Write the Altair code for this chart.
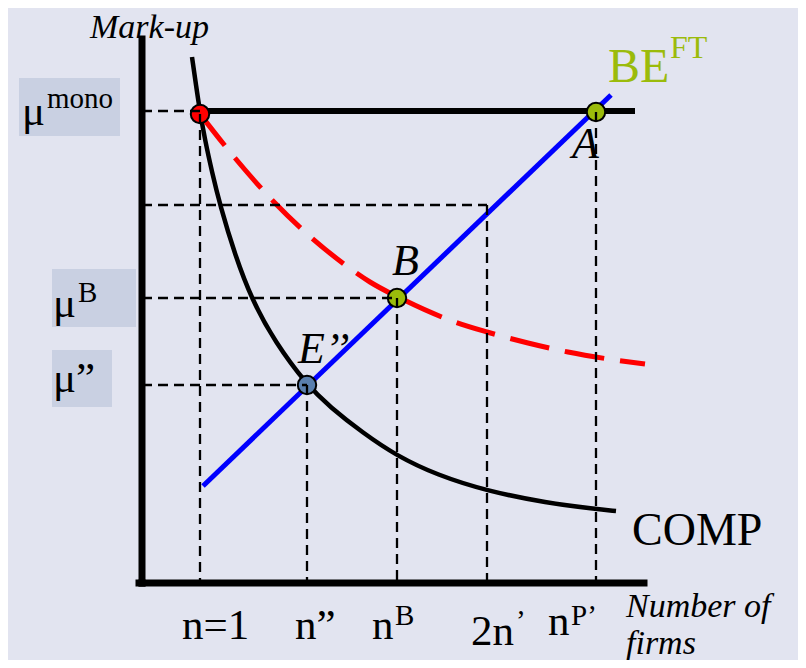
import altair as alt
import pandas as pd

# Schematic frame: x = number of firms (arbitrary units), y = mark-up (arbitrary units)
X_DOMAIN = [-134, 656]
Y_DOMAIN = [-80, 572]

# Curves
comp_x = [50, 54, 58, 63, 70, 78, 93, 110, 133, 165, 188, 221, 255, 295, 345, 405, 453, 474]
comp_y = [523, 495, 468, 440, 408, 375, 325, 280, 238, 195, 173, 147, 124, 105, 89, 77, 71, 69]

red_x = [58, 93, 133, 163, 198, 228, 258, 313, 345, 386, 426, 463, 503]
red_y = [466, 422, 377, 348, 319, 298, 282, 258, 248, 237, 228, 221.5, 216]

mono_x = [58, 493]
mono_y = [469, 469]

be_x = [61, 469]
be_y = [94, 485]

# Axes
axis_x = [0, 0, -3]
axis_y = [541, -3, -3]
axis_x2 = [0, 0, 502]
axis_y2 = [-3, -3, -3]

# Points
pt_x = [58, 454, 255, 165]
pt_y = [466, 468, 282, 195]
pt_color = ["#FF0000", "#9BBB0B", "#9BBB0B", "#5A7FAE"]

# Dashed guides: (x, y, x2, y2)
g_x = [0, 58, 0, 345, 0, 255, 0, 165, 454]
g_y = [469, 466, 375, 375, 282, 282, 195, 195, 468]
g_x2 = [58, 58, 345, 345, 255, 255, 165, 165, 454]
g_y2 = [469, 0, 375, 0, 282, 0, 195, 0, 0]

# Label boxes
box_x = [-123, -90, -90]
box_x2 = [-22, -6, -30]
box_y = [502, 311, 230]
box_y2 = [444, 253, 173]

# Texts
big_t = ["μ", "μ", "μ”", "n=1", "n”", "n", "2n", "n"]
big_x = [-120, -89, -89, 40, 153, 230, 329, 406]
big_y = [455, 263, 188, -59, -59, -59, -65, -55]

sup_t = ["mono", "B", "B", "’", "P’"]
sup_x = [-95, -64, 253, 374, 429]
sup_y = [472, 278, -45, -50, -45]

ital_t = ["A", "B", "E’’"]
ital_x = [430, 250, 156]
ital_y = [422, 305, 217]

axlab_t = ["Mark-up", "Number of", "firms"]
axlab_x = [-52, 484, 484]
axlab_y = [542, -37, -74]

FONT = "Liberation Serif, Times New Roman, serif"
xs = alt.Scale(domain=X_DOMAIN, nice=False, zero=False)
ys = alt.Scale(domain=Y_DOMAIN, nice=False, zero=False)


def X(f="x"):
    return alt.X(f, type="quantitative", scale=xs, axis=None)


def Y(f="y"):
    return alt.Y(f, type="quantitative", scale=ys, axis=None)


def line_layer(xv, yv, **mk):
    df = pd.DataFrame({"x": xv, "y": yv, "i": range(len(xv))})
    return alt.Chart(df).mark_line(**mk).encode(x=X(), y=Y(), order="i:Q")


def text_layer(tv, xv, yv, **mk):
    df = pd.DataFrame({"x": xv, "y": yv, "t": tv})
    return alt.Chart(df).mark_text(align="left", baseline="alphabetic", font=FONT, **mk).encode(
        x=X(), y=Y(), text="t:N"
    )


boxes = alt.Chart(pd.DataFrame({"x": box_x, "x2": box_x2, "y": box_y, "y2": box_y2})).mark_rect(
    color="#C9D0E2"
).encode(x=X(), x2="x2", y=Y(), y2="y2")

guides = alt.Chart(pd.DataFrame({"x": g_x, "y": g_y, "x2": g_x2, "y2": g_y2})).mark_rule(
    color="black", strokeWidth=2.3, strokeDash=[10, 6]
).encode(x=X(), y=Y(), x2="x2", y2="y2")

axes = alt.Chart(pd.DataFrame({"x": axis_x, "y": axis_y, "x2": axis_x2, "y2": axis_y2})).mark_rule(
    color="black", strokeWidth=7, strokeCap="square"
).encode(x=X(), y=Y(), x2="x2", y2="y2")

mono = line_layer(mono_x, mono_y, color="black", strokeWidth=6)
comp = line_layer(comp_x, comp_y, color="black", strokeWidth=4.5, interpolate="basis")
red = line_layer(red_x, red_y, color="#FF0000", strokeWidth=5, strokeDash=[40, 16], interpolate="monotone")
be = line_layer(be_x, be_y, color="#0000FF", strokeWidth=5)

points = alt.Chart(pd.DataFrame({"x": pt_x, "y": pt_y, "c": pt_color})).mark_point(
    filled=True, size=340, stroke="black", strokeWidth=2, opacity=1, fillOpacity=1, shape="circle"
).encode(x=X(), y=Y(), fill=alt.Fill("c:N", scale=None))

t_big = text_layer(big_t, big_x, big_y, fontSize=43, color="black")
t_sup = text_layer(sup_t, sup_x, sup_y, fontSize=29, color="black")
t_ital = text_layer(ital_t, ital_x, ital_y, fontSize=44, fontStyle="italic", color="black")
t_ax = text_layer(axlab_t, axlab_x, axlab_y, fontSize=34, fontStyle="italic", color="black")
t_comp = text_layer(["COMP"], [490], [35], fontSize=46, color="black")
t_be = text_layer(["BE"], [466], [498], fontSize=48, color="#9BBB0B")
t_ft = text_layer(["FT"], [528], [522], fontSize=32, color="#9BBB0B")

chart = alt.layer(
    boxes, axes, mono, comp, red, be, points, guides,
    t_big, t_sup, t_ital, t_ax, t_comp, t_be, t_ft,
).properties(
    width=790, height=652, autosize=alt.AutoSizeParams(type="none"), padding=0,
    background="#E2E4F0",
).configure_view(stroke=None)

chart.save("out.html", embed_options={"renderer": "svg", "actions": False})
